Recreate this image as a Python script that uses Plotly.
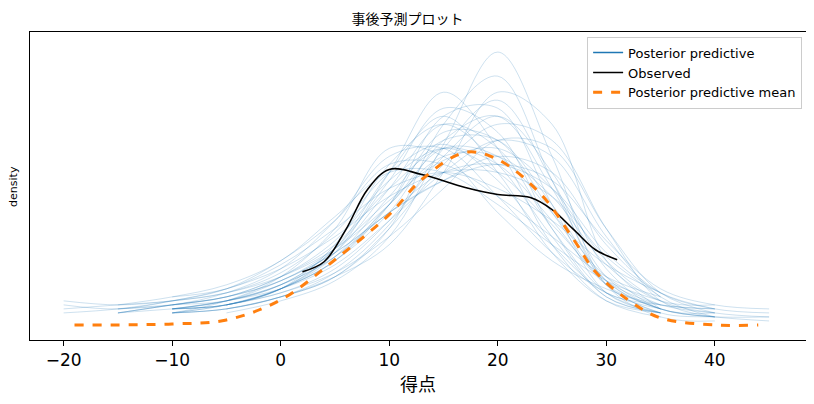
import plotly.graph_objects as go

grid = [-20, -15, -10, -5, 0, 5, 10, 15, 20, 25, 30, 35, 40, 45]
N = None
pp_curves = [
    [N, 3, 5, 7, 12, 20, 34, 44, 40, 26, 10, 4, N, N],
    [6, 5, 6, 8, 13, 23, 38, 45, 36, 20, 8, 5, 4, N],
    [N, N, 4, 6, 10, 17, 30, 48, 46, 28, 10, 3, 2, 2],
    [N, N, N, 5, 8, 14, 26, 42, 52, 38, 14, 4, 3, N],
    [5, 4, 6, 9, 16, 26, 40, 40, 32, 22, 12, 7, N, N],
    [N, N, 3, 4, 7, 12, 24, 50, 62, 36, 10, 3, N, N],
    [N, N, 5, 7, 11, 18, 28, 36, 42, 38, 20, 8, 4, 3],
    [N, 4, 5, 6, 10, 19, 38, 52, 38, 18, 6, 3, N, N],
    [N, N, N, 3, 6, 11, 22, 45, 68, 42, 10, 2, 1, N],
    [N, N, 3, 6, 12, 24, 44, 42, 28, 16, 9, 5, 4, N],
    [N, N, 4, 6, 9, 15, 26, 38, 46, 42, 22, 7, 2, N],
    [N, 3, 4, 5, 9, 18, 34, 50, 44, 24, 8, 3, N, N],
    [N, N, N, 5, 9, 16, 30, 42, 42, 32, 15, 6, 5, N],
    [N, N, 7, 9, 15, 24, 34, 38, 34, 26, 15, 8, N, N],
    [N, N, 3, 4, 7, 13, 25, 44, 56, 36, 12, 4, 2, 1],
    [4, 5, 6, 8, 12, 19, 30, 44, 42, 28, 12, 5, N, N],
    [N, N, 4, 5, 9, 18, 38, 58, 44, 20, 6, 2, N, N],
    [N, N, N, 5, 8, 13, 22, 34, 46, 44, 24, 8, 3, N],
    [N, 3, 5, 7, 12, 21, 36, 44, 38, 25, 11, 5, 3, N],
    [N, N, 3, 5, 9, 16, 30, 52, 54, 30, 8, 3, N, N],
    [N, N, 4, 6, 11, 18, 28, 38, 40, 34, 18, 8, 4, N],
    [N, N, 3, 4, 7, 12, 20, 38, 58, 50, 16, 4, N, N],
    [N, 4, 5, 8, 14, 26, 42, 44, 32, 18, 8, 4, N, N],
    [N, N, 4, 5, 9, 17, 32, 46, 46, 30, 11, 4, 2, N],
    [N, N, N, 6, 10, 17, 28, 36, 40, 36, 21, 9, 5, 4],
    [N, N, 3, 5, 9, 20, 40, 50, 40, 22, 7, 3, N, N],
    [3, 4, 6, 9, 14, 22, 32, 38, 38, 32, 17, 7, N, N],
    [N, N, 4, 5, 9, 16, 28, 46, 52, 34, 11, 4, 2, N],
    [N, 5, 7, 10, 16, 27, 38, 38, 30, 20, 11, 6, N, N],
    [N, N, N, 4, 7, 12, 24, 40, 50, 46, 24, 6, 2, N],
    [N, N, 4, 6, 10, 19, 36, 54, 48, 24, 7, 3, N, N],
    [N, 3, 5, 7, 11, 19, 31, 41, 44, 34, 16, 6, 3, 2],
]

mean_x = [-19, -10, -5, 0, 5, 10, 13, 17, 20, 24, 27, 29, 32, 35, 40, 44]
mean_y = [0, 0.25, 1.25, 6.25, 16.25, 27.5, 36.25, 43, 41.25, 32.5, 21.25, 13.25, 6.25, 1.75, 0, 0]
obs_x = [2, 4, 6, 8, 10, 13, 17, 20, 23, 25, 27, 29, 31]
obs_y = [13.25, 15.75, 23.75, 33.75, 38.75, 37.5, 34.25, 32.5, 31.75, 28.75, 23.75, 18.75, 16.25]

fig = go.Figure()
for c in pp_curves:
    fig.add_trace(go.Scatter(x=grid, y=c, mode="lines", line=dict(color="rgba(31,119,180,0.28)", width=0.8, shape="spline"),
                             showlegend=False, hoverinfo="skip"))
fig.add_trace(go.Scatter(x=[None], y=[None], mode="lines", line=dict(color="#1f77b4", width=1.5), name="Posterior predictive"))
fig.add_trace(go.Scatter(x=obs_x, y=obs_y, mode="lines", line=dict(color="black", width=1.6, shape="spline"), name="Observed"))
fig.add_trace(go.Scatter(x=mean_x, y=mean_y, mode="lines", line=dict(color="#ff7f0e", width=3, dash="dash", shape="spline"),
                         name="Posterior predictive mean"))

fig.update_layout(
    width=799, height=388, margin=dict(l=22, r=1, t=24, b=56, autoexpand=False),
    plot_bgcolor="white", paper_bgcolor="white",
    font=dict(family="Noto Sans CJK JP", color="black"),
    title=dict(text="事後予測プロット", x=0.5, xanchor="center", yref="container", y=1 - 11 / 388, yanchor="middle",
               font=dict(size=14)),
    legend=dict(x=0.995, y=0.985, xanchor="right", yanchor="top", bordercolor="#cccccc", borderwidth=1,
                bgcolor="rgba(255,255,255,0.8)", font=dict(size=13, family="DejaVu Sans")),
    xaxis=dict(range=[-23.1, 48.4], showline=True, mirror=True, linecolor="black", showgrid=False, zeroline=False,
               automargin=False,
               tickvals=[-20, -10, 0, 10, 20, 30, 40], ticks="outside", tickcolor="black",
               tickfont=dict(size=17, family="DejaVu Sans"), title=dict(text="得点", font=dict(size=18), standoff=2)),
    yaxis=dict(range=[-3.75, 73], showline=True, mirror=True, linecolor="black", showgrid=False, zeroline=False,
               showticklabels=False, ticks="", automargin=False),
    annotations=[dict(text="density", xref="paper", yref="paper", x=-0.022, y=0.5, showarrow=False, textangle=-90,
                      xanchor="center", yanchor="middle", font=dict(size=11, family="DejaVu Sans"))],
)
fig.write_html("out.html")
